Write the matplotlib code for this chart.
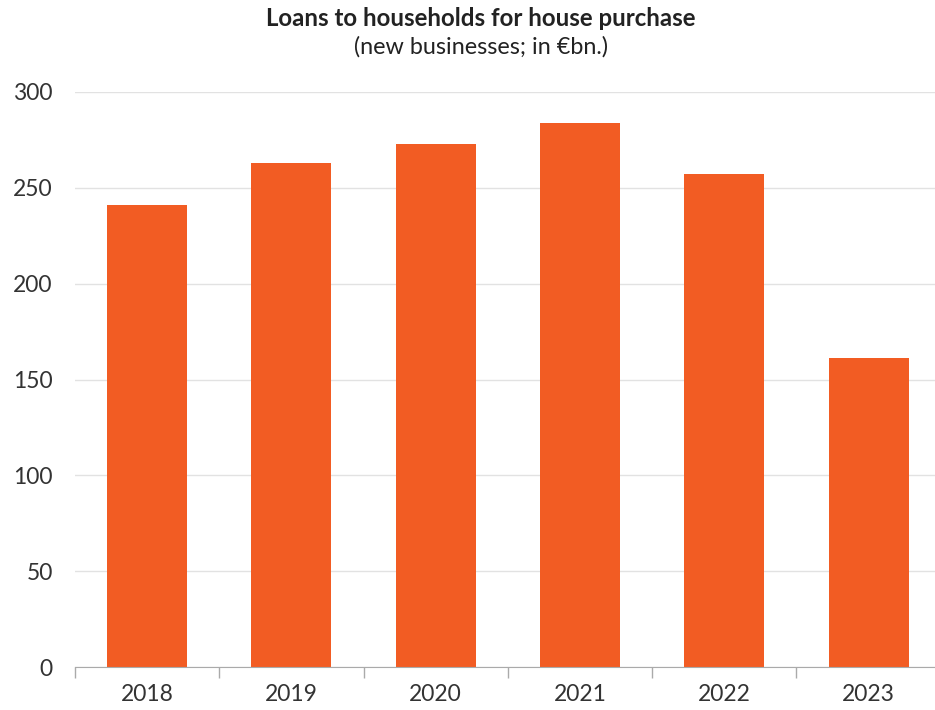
import matplotlib
matplotlib.use("Agg")
import matplotlib.pyplot as plt

years = ['2018', '2019', '2020', '2021', '2022', '2023']
loans = [241, 263, 273, 284, 257, 161]

plt.rcParams['font.family'] = ['Lato', 'DejaVu Sans']

fig = plt.figure(figsize=(9.35, 7.10), dpi=100)
ax = fig.add_axes([75 / 935, 43 / 710, 1 - 75 / 935, 575 / 710])

x = range(len(years))
ax.bar(x, loans, width=0.555, color='#F25C23', zorder=3)

ax.set_ylim(0, 300)
ax.set_xlim(-0.5, 5.46)
ax.set_yticks([0, 50, 100, 150, 200, 250, 300])
ax.set_xticks([i - 0.5 for i in range(len(years))], minor=False)
ax.set_xticks(list(x), minor=True)
ax.set_xticklabels([])
ax.set_xticklabels(years, minor=True)
ax.tick_params(axis='x', which='major', length=8, color='#aaaaaa', width=1)
ax.tick_params(axis='x', which='minor', length=0, labelsize=16.5, colors='#333333', pad=12)
ax.tick_params(axis='y', length=0, labelsize=16.5, colors='#333333', pad=16)

ax.grid(axis='y', color='#e2e2e2', linewidth=1, zorder=0)
for s in ['top', 'right', 'left']:
    ax.spines[s].set_visible(False)
ax.spines['bottom'].set_color('#aaaaaa')
ax.spines['bottom'].set_zorder(4)

fig.text(481 / 935, 1 - 18 / 710, 'Loans to households for house purchase', ha='center', va='center',
         fontsize=17.3, fontweight='bold', color='#222222')
fig.text(481 / 935, 1 - 47 / 710, '(new businesses; in €bn.)', ha='center', va='center',
         fontsize=16.8, color='#222222')

fig.savefig('out.png', dpi=100)
